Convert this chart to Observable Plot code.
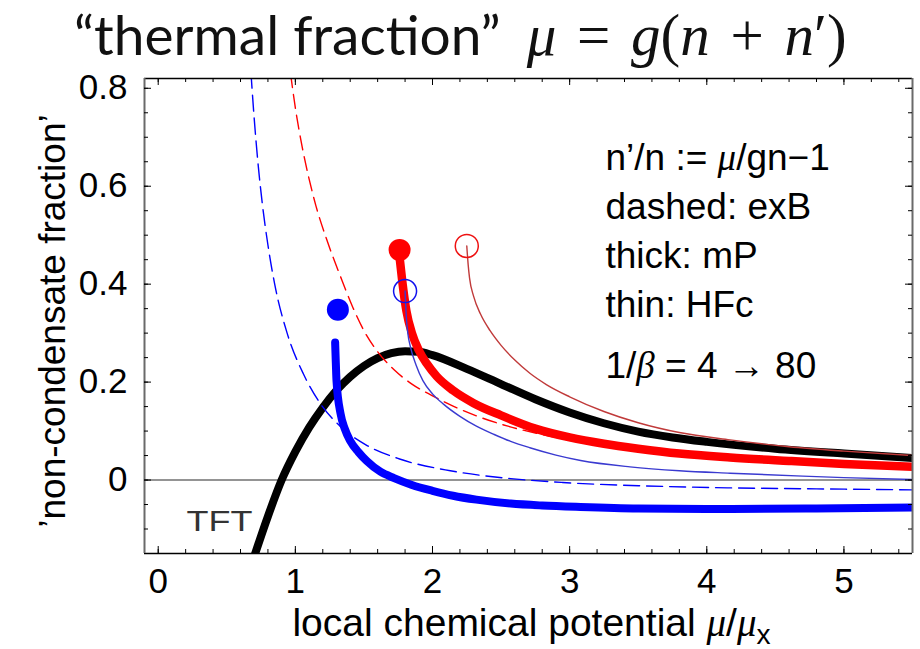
<!DOCTYPE html>
<html>
<head>
<meta charset="utf-8">
<script src="https://cdn.jsdelivr.net/npm/d3@7"></script>
<script src="https://cdn.jsdelivr.net/npm/@observablehq/plot@0.6"></script>
<style>
  body { margin: 0; background: #fff; }
  #wrap { position: relative; width: 920px; height: 649px; overflow: hidden; }
  #title { position: absolute; left: 74px; top: 9px; font-size: 55px; line-height: 50px; white-space: nowrap; color: #111; }
  #title .tx { font-family: Lato, "Open Sans", sans-serif; }
  #title .mx { font-family: "Liberation Serif", serif; font-size: 59px; margin-left: 26px; word-spacing: 6px; }
  #title .mx i { font-style: italic; }
</style>
</head>
<body>
<div id="wrap">
  <div id="title"><span class="tx">“thermal fraction”</span><span class="mx"><i>μ</i> = <i>g</i>(<i>n</i> + <i>n</i>′)</span></div>
</div>
<script>
// Axes
const xDomain = [-0.1, 5.5];
const yDomain = [-0.15, 0.82];
const xMajorTicks = [0, 1, 2, 3, 4, 5];
const xTickLabels = ["0", "1", "2", "3", "4", "5"];
const yMajorTicks = [0, 0.2, 0.4, 0.6, 0.8];
const yTickLabels = ["0", "0.2", "0.4", "0.6", "0.8"];
const xMinorTicks = d3.range(0, 28).map(i => +(i * 0.2).toFixed(2));
const yMinorTicks = d3.range(-2, 17).map(i => +(i * 0.05).toFixed(2));

const xLabel = "local chemical potential μ/μ_x";
const yLabel = "’non-condensate fraction’";
const noteLines = ["n’/n := μ/gn−1", "dashed: exB", "thick: mP", "thin: HFc"];
const betaNote = "1/β = 4 → 80";
const tftLabel = "TFT";

// TFT (black, thick)
const tftX = [0.70, 0.80, 0.90, 1.00, 1.10, 1.20, 1.30, 1.40, 1.50, 1.60, 1.70, 1.80, 1.90, 2.00, 2.25, 2.50, 2.75, 3.00, 3.25, 3.50, 3.75, 4.00, 4.50, 5.00, 5.50];
const tftY = [-0.156, -0.074, 0.0, 0.058, 0.107, 0.148, 0.183, 0.211, 0.233, 0.249, 0.259, 0.263, 0.262, 0.255, 0.227, 0.196, 0.165, 0.138, 0.116, 0.099, 0.087, 0.078, 0.064, 0.054, 0.045];

// mP (thick)
const mpRedX = [1.76, 1.78, 1.81, 1.85, 1.90, 1.96, 2.03, 2.15, 2.30, 2.50, 2.75, 3.00, 3.25, 3.50, 3.80, 4.17, 4.60, 5.00, 5.50];
const mpRedY = [0.455, 0.405, 0.345, 0.300, 0.265, 0.237, 0.212, 0.183, 0.157, 0.132, 0.105, 0.087, 0.074, 0.064, 0.054, 0.046, 0.039, 0.033, 0.027];
const mpBlueX = [1.29, 1.295, 1.30, 1.33, 1.36, 1.40, 1.46, 1.52, 1.62, 1.72, 1.85, 2.00, 2.15, 2.32, 2.57, 2.80, 3.08, 3.50, 4.17, 4.80, 5.50];
const mpBlueY = [0.281, 0.240, 0.203, 0.135, 0.105, 0.080, 0.057, 0.039, 0.017, 0.004, -0.010, -0.022, -0.032, -0.040, -0.048, -0.052, -0.055, -0.058, -0.059, -0.058, -0.056];

// HFc (thin)
const hfRedX = [2.25, 2.26, 2.27, 2.30, 2.35, 2.42, 2.50, 2.60, 2.71, 2.83, 3.00, 3.25, 3.50, 3.80, 4.17, 4.60, 5.00, 5.50];
const hfRedY = [0.478, 0.440, 0.413, 0.375, 0.339, 0.305, 0.275, 0.245, 0.218, 0.195, 0.170, 0.140, 0.117, 0.097, 0.082, 0.068, 0.059, 0.050];
const hfBlueX = [1.80, 1.803, 1.81, 1.82, 1.84, 1.88, 1.93, 2.00, 2.08, 2.20, 2.32, 2.45, 2.57, 2.71, 2.90, 3.08, 3.44, 3.80, 4.17, 4.70, 5.00, 5.50];
const hfBlueY = [0.386, 0.366, 0.330, 0.300, 0.271, 0.235, 0.203, 0.176, 0.155, 0.130, 0.110, 0.093, 0.079, 0.066, 0.051, 0.040, 0.027, 0.019, 0.014, 0.008, 0.005, 0.001];

// exB (dashed)
const exRedX = [0.965, 1.00, 1.05, 1.10, 1.15, 1.23, 1.33, 1.42, 1.50, 1.60, 1.72, 1.85, 2.00, 2.15, 2.35, 2.55, 2.75, 3.00, 3.25, 3.50, 4.00, 4.50, 5.00, 5.50];
const exRedY = [0.830, 0.760, 0.680, 0.615, 0.560, 0.490, 0.415, 0.352, 0.305, 0.262, 0.225, 0.196, 0.172, 0.151, 0.128, 0.110, 0.096, 0.082, 0.071, 0.062, 0.048, 0.038, 0.031, 0.026];
const exBlueX = [0.665, 0.70, 0.73, 0.76, 0.80, 0.85, 0.94, 1.06, 1.18, 1.33, 1.52, 1.76, 2.13, 2.57, 2.95, 3.56, 4.17, 4.80, 5.50];
const exBlueY = [0.880, 0.738, 0.640, 0.562, 0.480, 0.399, 0.300, 0.216, 0.157, 0.109, 0.071, 0.043, 0.019, 0.003, -0.005, -0.012, -0.016, -0.018, -0.020];

// End points
const filledX = [1.76, 1.31];
const filledY = [0.470, 0.348];
const filledColor = ["#ff0000", "#0000ff"];
const openX = [2.25, 1.80];
const openY = [0.478, 0.386];
const openColor = ["#ee1111", "#1111ee"];

const pts = (xs, ys) => xs.map((x, i) => ({x, y: ys[i]}));

const W = 920, H = 649, ML = 144, MR = 8, MT = 78, MB = 96;
const FW = W - ML - MR, FH = H - MT - MB;
const labelMapX = new Map(xMajorTicks.map((d, i) => [d, xTickLabels[i]]));
const labelMapY = new Map(yMajorTicks.map((d, i) => [d, yTickLabels[i]]));

const lineOpts = (stroke, strokeWidth, extra = {}) => ({
  x: "x", y: "y", stroke, strokeWidth, curve: "monotone-x", clip: true, ...extra
});

const chart = Plot.plot({
  width: W, height: H,
  marginLeft: ML, marginRight: MR, marginTop: MT, marginBottom: MB,
  x: {domain: xDomain},
  y: {domain: yDomain},
  style: {fontFamily: "'Liberation Sans', Arial, sans-serif", background: "transparent", color: "#000"},
  marks: [
    // zero line
    Plot.ruleY([0], {stroke: "#707070", strokeWidth: 1.6}),
    // curves
    Plot.line(pts(tftX, tftY), lineOpts("#000", 8, {strokeLinecap: "round"})),
    Plot.line(pts(exBlueX, exBlueY), lineOpts("#0000ff", 1.4, {strokeDasharray: "16,7"})),
    Plot.line(pts(exRedX, exRedY), lineOpts("#ff0000", 1.4, {strokeDasharray: "14,7"})),
    Plot.line(pts(mpRedX, mpRedY), lineOpts("#ff0000", 8.5, {strokeLinecap: "round"})),
    Plot.line(pts(mpBlueX, mpBlueY), lineOpts("#0000ff", 8, {strokeLinecap: "round"})),
    Plot.line(pts(hfRedX, hfRedY), lineOpts("#c03a3a", 1.4)),
    Plot.line(pts(hfBlueX, hfBlueY), lineOpts("#3a3ad0", 1.4)),
    // end points
    Plot.dot(filledX.map((x, i) => ({x, y: filledY[i], c: filledColor[i]})), {x: "x", y: "y", r: 11, fill: "c", stroke: "none"}),
    Plot.dot(openX.map((x, i) => ({x, y: openY[i], c: openColor[i]})), {x: "x", y: "y", r: 11.5, fill: "none", stroke: "c", strokeWidth: 1.5}),
    // frame
    Plot.ruleY([yDomain[1], yDomain[0]], {stroke: "#000", strokeWidth: 1.5}),
    Plot.ruleX([xDomain[0], xDomain[1]], {stroke: "#6a6a6a", strokeWidth: 2}),
    // inward ticks
    Plot.tickX(xMinorTicks, {x: d => d, insetTop: FH - 4, stroke: "#000"}),
    Plot.tickX(xMinorTicks, {x: d => d, insetBottom: FH - 4, stroke: "#000"}),
    Plot.tickX(xMajorTicks, {x: d => d, insetTop: FH - 7, stroke: "#000"}),
    Plot.tickX(xMajorTicks, {x: d => d, insetBottom: FH - 7, stroke: "#000"}),
    Plot.tickY(yMinorTicks, {y: d => d, insetRight: FW - 4, stroke: "#000"}),
    Plot.tickY(yMinorTicks, {y: d => d, insetLeft: FW - 4, stroke: "#000"}),
    Plot.tickY(yMajorTicks, {y: d => d, insetRight: FW - 7, stroke: "#000"}),
    Plot.tickY(yMajorTicks, {y: d => d, insetLeft: FW - 7, stroke: "#000"}),
    // tick labels
    Plot.axisX({ticks: xMajorTicks, tickFormat: d => labelMapX.get(d), tickSize: 0, tickPadding: 15, fontSize: 35, label: null, anchor: "bottom"}),
    Plot.axisY({ticks: yMajorTicks, tickFormat: d => labelMapY.get(d), tickSize: 0, tickPadding: 17, fontSize: 35, label: null, anchor: "left"}),
    // axis titles
    Plot.text([xLabel], {text: d => d, frameAnchor: "bottom", textAnchor: "middle", dx: 3, dy: 70, fontSize: 39, lineAnchor: "middle"}),
    Plot.text([yLabel], {text: d => d, frameAnchor: "left", textAnchor: "middle", rotate: -90, dx: -91, dy: 5, fontSize: 37, lineAnchor: "middle"}),
    // annotations
    Plot.text([noteLines.join("\n")], {text: d => d, frameAnchor: "top-left", textAnchor: "start", lineAnchor: "top", dx: 461, dy: 57, fontSize: 37, lineHeight: 1.324}),
    Plot.text([betaNote], {text: d => d, frameAnchor: "top-left", textAnchor: "start", lineAnchor: "top", dx: 461, dy: 273, fontSize: 37}),
    Plot.text([tftLabel], {text: d => d, frameAnchor: "bottom-left", textAnchor: "start", lineAnchor: "middle", dx: 42, dy: -32, fontSize: 29, fill: "#333"})
  ]
});

// Greek letters in italic serif, "_x" as a subscript
const svgNS = "http://www.w3.org/2000/svg";
function styleGreek(root) {
  const walker = document.createTreeWalker(root, NodeFilter.SHOW_TEXT);
  const nodes = [];
  while (walker.nextNode()) nodes.push(walker.currentNode);
  for (const node of nodes) {
    const s = node.nodeValue;
    if (!/[μβ]|_x/.test(s)) continue;
    const frag = document.createDocumentFragment();
    for (const part of s.split(/([μβ]|_x)/)) {
      if (!part) continue;
      if (part === "μ" || part === "β") {
        const t = document.createElementNS(svgNS, "tspan");
        t.setAttribute("font-family", "'Liberation Serif', serif");
        t.setAttribute("font-style", "italic");
        t.textContent = part;
        frag.appendChild(t);
      } else if (part === "_x") {
        const t = document.createElementNS(svgNS, "tspan");
        t.setAttribute("font-size", "0.72em");
        t.setAttribute("dy", "0.3em");
        t.textContent = "x";
        frag.appendChild(t);
      } else {
        frag.appendChild(document.createTextNode(part));
      }
    }
    node.parentNode.replaceChild(frag, node);
  }
}
styleGreek(chart);
// the TFT tag is set in a wide face: stretch its glyphs to the full tag width
chart.querySelectorAll("text").forEach(t => {
  if (t.textContent === tftLabel) {
    t.setAttribute("textLength", "66");
    t.setAttribute("lengthAdjust", "spacingAndGlyphs");
  }
});
document.getElementById("wrap").prepend(chart);
</script>
</body>
</html>
